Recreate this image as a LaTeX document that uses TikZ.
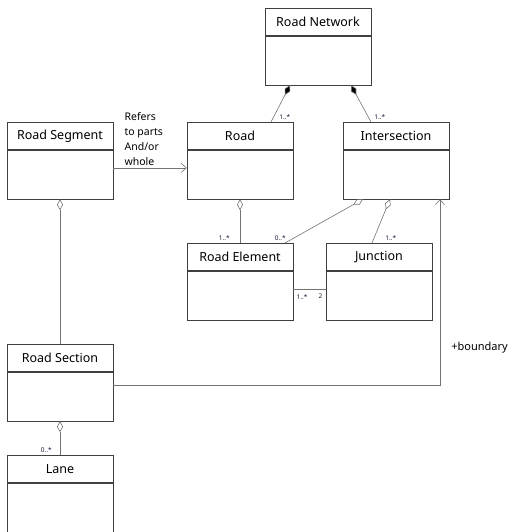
\documentclass[tikz,border=0pt]{standalone}
\usepackage{fontspec}
\setmainfont{Noto Sans}
\usetikzlibrary{
    arrows.meta, % Diamonds and open arrow heads.
    positioning, % Class bodies below their headers.
}

\definecolor{navy}{RGB}{25, 25, 60}

\begin{document}
\begin{tikzpicture}[%
        x = 1pt,
        y = -1pt,
        line width = 0.6pt,
        classhead/.style = {%
            draw = black!75,
            minimum width = 106pt,
            minimum height = 27pt,
            inner sep = 0pt,
            anchor = north,
            font = \fontsize{12.5}{14}\selectfont
        },
        classbody/.style = {%
            draw = black!75,
            minimum width = 106pt,
            minimum height = 49pt,
            inner sep = 0pt,
            below = 0pt of #1
        },
        compose/.style = {%
            draw = black!55,
            {Diamond[length = 11pt, width = 6pt, fill = black]}-
        },
        aggregate/.style = {%
            draw = black!55,
            {Diamond[open, length = 11pt, width = 6pt]}-
        },
        refer/.style = {%
            draw = black!55,
            -{Straight Barb[length = 5pt, width = 9pt]}
        },
        mult/.style = {%
            font = \fontsize{6.5}{7}\selectfont\bfseries,
            text = navy,
            inner sep = 1pt
        }
    ]

        \useasboundingbox (0, 0) rectangle (510, 532);

        % Class headers.
        \node[classhead] (nethead) at (318, 8) {Road Network};
        \node[classhead] (seghead) at (60, 122) {Road Segment};
        \node[classhead] (roadhead) at (240, 122) {Road};
        \node[classhead] (interhead) at (396, 122) {Intersection};
        \node[classhead] (elemhead) at (240, 243) {Road Element};
        \node[classhead] (junchead) at (379, 243) {Junction};
        \node[classhead] (sechead) at (60, 344) {Road Section};
        \node[classhead] (lanehead) at (60, 455) {Lane};

        % Empty class bodies.
        \node[classbody = nethead] (netbody) {};
        \node[classbody = seghead] (segbody) {};
        \node[classbody = roadhead] (roadbody) {};
        \node[classbody = interhead] (interbody) {};
        \node[classbody = elemhead] (elembody) {};
        \node[classbody = junchead] (juncbody) {};
        \node[classbody = sechead] (secbody) {};
        \node[classbody = lanehead] (lanebody) {};

        % Compositions from the road network.
        \draw[compose] ([xshift = -28pt]netbody.south) to
            node[mult, at end, anchor = south west, xshift = 7pt, yshift = 1pt] {1..*}
            ([xshift = 31pt]roadhead.north);
        \draw[compose] ([xshift = 33pt]netbody.south) to
            node[mult, at end, anchor = south west, xshift = 2pt, yshift = 1pt] {1..*}
            ([xshift = -25pt]interhead.north);

        % Aggregations.
        \draw[aggregate] (segbody.south) to (sechead.north);
        \draw[aggregate] (roadbody.south) to
            node[mult, at end, anchor = south east, xshift = -9pt, yshift = 1pt] {1..*}
            (elemhead.north);
        \draw[aggregate] ([xshift = -33pt]interbody.south) to
            node[mult, at end, anchor = south east, xshift = 2pt, yshift = 1pt] {0..*}
            ([xshift = 45pt]elemhead.north);
        \draw[aggregate] ([xshift = -6pt]interbody.south) to
            node[mult, at end, anchor = south west, xshift = 12pt, yshift = 1pt] {1..*}
            ([xshift = -7pt]junchead.north);
        \draw[aggregate] (secbody.south) to
            node[mult, at end, anchor = south east, xshift = -7pt, yshift = 1pt] {0..*}
            (lanehead.north);

        % Plain association between road element and junction.
        \draw[draw = black!55] ([yshift = 6.5pt]elembody.east) to
            node[mult, at start, anchor = north west, xshift = 2pt, yshift = -4pt] {1..*}
            node[mult, at end, anchor = north east, xshift = -2pt, yshift = -4pt] {2}
            ([yshift = 6.5pt]juncbody.west);

        % Directed associations.
        \draw[refer] ([yshift = 6.5pt]segbody.east) to
            node[at start, anchor = south west, align = left, xshift = 9pt,
                inner sep = 2pt, font = \fontsize{10.5}{15}\selectfont]
                {Refers\\to parts\\And/or\\whole}
            ([yshift = 6.5pt]roadbody.west);
        \draw[refer] ([yshift = 11.5pt]secbody.east) -|
            node[pos = 0.6, anchor = west, xshift = 9pt, inner sep = 2pt,
                font = \fontsize{11}{13}\selectfont] {+boundary}
            ([xshift = 44pt]interbody.south);
    \end{tikzpicture}
\end{document}
